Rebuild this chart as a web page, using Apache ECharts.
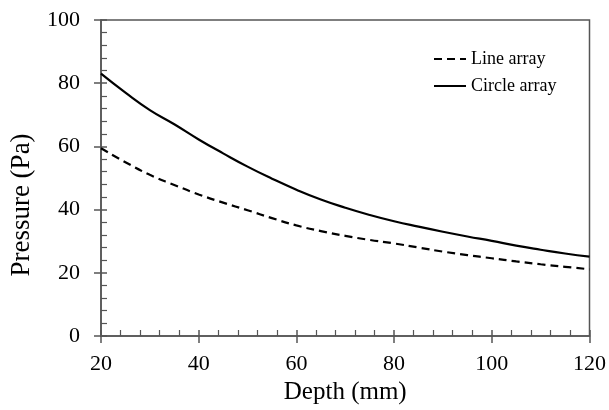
<!DOCTYPE html>
<html>
<head>
<meta charset="utf-8">
<script src="https://cdn.jsdelivr.net/npm/echarts@6/dist/echarts.min.js"></script>
<style>html,body{margin:0;padding:0;background:#fff}#c{width:609px;height:410px}</style>
</head>
<body>
<div id="c"></div>
<script>
var depth = [20,25,30,35,40,45,50,55,60,65,70,75,80,85,90,95,100,105,110,115,120];
var lineArray = [59.4,55.0,51.0,47.8,44.8,42.2,39.8,37.3,35.0,33.2,31.7,30.4,29.3,28.0,26.7,25.6,24.6,23.6,22.7,21.9,21.1];
var circleArray = [83.0,77.0,71.5,67.0,62.2,57.8,53.6,49.8,46.3,43.2,40.6,38.3,36.3,34.6,33.0,31.5,30.1,28.6,27.3,26.1,25.1];
var xTicks = [20,40,60,80,100,120];
var yTicks = [0,20,40,60,80,100];

var FONT = '"Liberation Serif","DejaVu Serif",serif';
var AX = '#555';

function pairs(xs, ys){ return xs.map(function(x,i){ return [x, ys[i]]; }); }

var chart = echarts.init(document.getElementById('c'), null, {renderer:'canvas'});
var baseX = {
  type:'value', min:xTicks[0], max:xTicks[xTicks.length-1], interval:20,
  splitLine:{show:false}
};
var baseY = {
  type:'value', min:yTicks[0], max:yTicks[yTicks.length-1], interval:20,
  splitLine:{show:false}
};
chart.setOption({
  animation:false,
  backgroundColor:'#fff',
  grid:{left:101, right:19, top:20, bottom:74, show:true, borderColor:AX, borderWidth:1.5, backgroundColor:'transparent'},
  legend:{
    orient:'vertical', left:428, top:45, itemWidth:32, itemHeight:14, itemGap:9,
    itemStyle:{opacity:0},
    textStyle:{fontFamily:FONT, fontSize:18, color:'#000'},
    data:['Line array','Circle array']
  },
  xAxis:[
    Object.assign({}, baseX, {
      name:'Depth (mm)', nameLocation:'middle', nameGap:44,
      nameTextStyle:{fontFamily:FONT, fontSize:25, color:'#000'},
      axisLine:{show:true, lineStyle:{color:AX, width:1.5}},
      axisTick:{show:true, inside:true, length:6, lineStyle:{color:AX, width:1.5}},
      minorTick:{show:true, splitNumber:5, length:6, lineStyle:{color:AX, width:1.2}},
      axisLabel:{margin:17, fontFamily:FONT, fontSize:22, color:'#000'}
    }),
    Object.assign({}, baseX, {
      position:'bottom',
      axisLine:{show:false},
      axisTick:{show:true, inside:false, length:7, lineStyle:{color:AX, width:1.5}},
      axisLabel:{show:false}
    })
  ],
  yAxis:[
    Object.assign({}, baseY, {
      name:'Pressure (Pa)', nameLocation:'middle', nameGap:66,
      nameTextStyle:{fontFamily:FONT, fontSize:27, color:'#000', padding:[0,54,0,0]},
      axisLine:{show:true, lineStyle:{color:AX, width:1.5}},
      axisTick:{show:true, inside:true, length:6, lineStyle:{color:AX, width:1.5}},
      minorTick:{show:true, splitNumber:5, length:6, lineStyle:{color:AX, width:1.2}},
      axisLabel:{margin:21, fontFamily:FONT, fontSize:22, color:'#000'}
    }),
    Object.assign({}, baseY, {
      position:'left',
      axisLine:{show:false},
      axisTick:{show:true, inside:false, length:7, lineStyle:{color:AX, width:1.5}},
      axisLabel:{show:false}
    })
  ],
  series:[
    {name:'Line array', type:'line', data:pairs(depth, lineArray), smooth:true, showSymbol:false, symbol:'none',
     lineStyle:{color:'#000', width:2.2, type:[8,5]}, itemStyle:{color:'#000'}},
    {name:'Circle array', type:'line', data:pairs(depth, circleArray), smooth:true, showSymbol:false, symbol:'none',
     lineStyle:{color:'#000', width:2.2, type:'solid'}, itemStyle:{color:'#000'}}
  ]
});
</script>
</body>
</html>
